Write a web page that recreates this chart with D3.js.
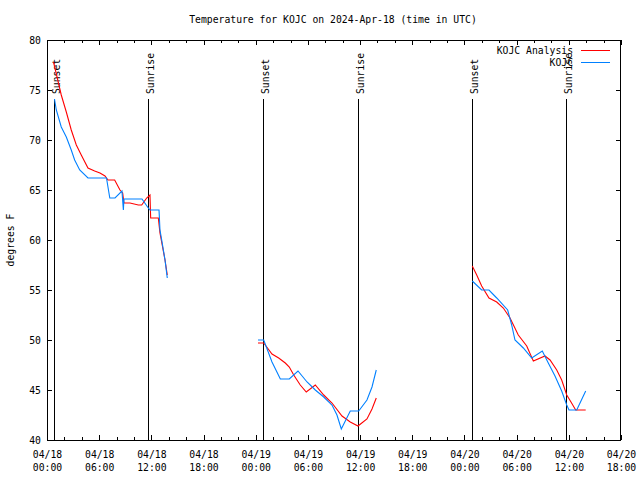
<!DOCTYPE html>
<html><head><meta charset="utf-8">
<script src="https://cdn.jsdelivr.net/npm/d3@7"></script>
<style>
html,body{margin:0;padding:0;background:#fff;}
text{font-family:"DejaVu Sans Mono",monospace;font-size:9.75px;fill:#000;}
</style></head>
<body>
<svg id="c" width="640" height="480"></svg>
<script>
// hours since 2024-04-18 00:00 UTC ; null = gap
const analysisHours = [0.75,1.64,2.22,2.79,3.37,3.94,4.71,5.48,6.09,6.67,7.01,7.78,8.39,8.70,8.85,9.54,10.50,10.89,11.46,11.84,11.92,12.80,12.99,13.57,13.83,
  null,
  24.26,24.92,25.87,26.64,27.40,27.86,28.37,29.12,29.81,30.85,31.82,32.77,33.92,34.87,35.76,36.79,37.37,37.86,
  null,
  48.90,49.41,49.98,50.82,51.71,52.47,53.24,54.19,55.16,55.92,57.26,57.84,58.61,59.18,59.76,60.25,60.79,61.94];
const analysisTemps = [77.8,74.5,72.8,71.0,69.5,68.5,67.2,66.9,66.7,66.4,66.0,66.0,65.0,64.7,63.7,63.7,63.5,63.5,64.2,64.5,62.2,62.2,60.7,58.0,56.5,
  null,
  49.7,49.7,48.6,48.2,47.7,47.3,46.5,45.5,44.8,45.5,44.5,43.7,42.4,41.8,41.4,42.1,43.1,44.2,
  null,
  57.4,56.5,55.4,54.2,53.8,53.2,52.2,50.5,49.4,47.9,48.4,48.0,47.0,46.0,44.5,43.8,43.0,43.0];
const obsHours = [0.86,1.07,1.64,2.22,2.79,3.18,3.76,4.71,6.84,7.22,7.82,8.62,8.78,8.85,10.92,11.65,11.84,12.88,12.99,13.19,13.57,13.83,
  null,
  24.26,24.92,25.87,26.83,27.86,28.86,29.90,30.85,31.82,32.77,33.34,33.84,34.87,35.84,36.79,37.37,37.86,
  null,
  48.90,49.98,50.82,51.71,52.97,53.43,53.81,54.77,55.73,56.95,57.64,58.41,59.18,59.76,60.02,60.91,61.94];
const obsTemps = [74.1,73.0,71.3,70.3,69.0,68.0,67.0,66.2,66.2,64.2,64.2,64.9,63.0,64.1,64.1,63.2,63.0,63.0,61.0,60.0,58.0,56.2,
  null,
  50.0,50.0,47.8,46.1,46.1,46.9,45.8,45.0,44.3,43.5,42.5,41.1,42.9,42.9,44.0,45.3,47.0,
  null,
  55.9,55.0,55.0,54.2,53.0,51.5,50.0,49.2,48.2,48.9,47.7,46.4,44.9,43.5,43.0,43.0,44.9];
const sunEventHours = [0.80,11.61,24.84,35.76,48.87,59.68];
const sunEventLabels = ["Sunset","Sunrise","Sunset","Sunrise","Sunset","Sunrise"];
const yTicks = [40,45,50,55,60,65,70,75,80];
const seriesNames = ["KOJC Analysis","KOJC"];
const seriesColors = ["#ff0000","#0080ff"];
const titleText = "Temperature for KOJC on 2024-Apr-18 (time in UTC)";
const yLabel = "degrees F";

const base = Date.UTC(2024,3,18,0,0);
const hr = h => new Date(base + h*3600e3);

const L=47,R=621,T=40,B=440;
const svg = d3.select("#c");
const x = d3.scaleUtc().domain([hr(0),hr(66)]).range([L,R]);
const y = d3.scaleLinear().domain([40,80]).range([B,T]);

const majors = d3.range(0,67,6).map(hr);
const minors = d3.range(0,67,2).filter(h=>h%6!==0).map(hr);

const fmtD = d3.utcFormat("%m/%d"), fmtT = d3.utcFormat("%H:%M");

// bottom axis
const gb = svg.append("g").attr("transform",`translate(0,${B})`)
  .call(d3.axisBottom(x).tickValues(majors).tickSize(-5).tickPadding(10));
gb.selectAll(".tick text").each(function(d){
  const t=d3.select(this); t.text(null).attr("y",null).attr("dy",null);
  t.append("tspan").attr("x",0).attr("y",18).text(fmtD(d));
  t.append("tspan").attr("x",0).attr("y",31).text(fmtT(d));
});
svg.append("g").attr("transform",`translate(0,${B})`)
  .call(d3.axisBottom(x).tickValues(minors).tickSize(-3).tickFormat(""));
// top axis
svg.append("g").attr("transform",`translate(0,${T})`)
  .call(d3.axisTop(x).tickValues(majors).tickSize(-5).tickFormat(""));
svg.append("g").attr("transform",`translate(0,${T})`)
  .call(d3.axisTop(x).tickValues(minors).tickSize(-3).tickFormat(""));
// left / right
svg.append("g").attr("transform",`translate(${L},0)`)
  .call(d3.axisLeft(y).tickValues(yTicks).tickSize(-5).tickPadding(6).tickFormat(d3.format("d")));
svg.append("g").attr("transform",`translate(${R},0)`)
  .call(d3.axisRight(y).tickValues(yTicks).tickSize(-5).tickFormat(""));
svg.selectAll(".domain").remove();
svg.selectAll(".tick line").attr("stroke","#000").attr("shape-rendering","crispEdges");
svg.selectAll(".tick text").attr("font-family",null).attr("font-size",null).style("fill","#000");

// border
svg.append("rect").attr("x",L+0.5).attr("y",T+0.5).attr("width",R-L-1).attr("height",B-T)
  .attr("fill","none").attr("stroke","#000").attr("shape-rendering","crispEdges");

// sunrise/sunset lines
sunEventHours.forEach((h,i)=>{
  const xx = Math.round(x(hr(h)))+0.5;
  svg.append("line").attr("x1",xx).attr("x2",xx).attr("y1",99).attr("y2",B)
    .attr("stroke","#000").attr("shape-rendering","crispEdges");
  svg.append("text").attr("transform",`translate(${xx+5},94) rotate(-90)`)
    .text(sunEventLabels[i]);
});

// series
const mk = (hs,ts)=>hs.map((h,i)=>({h,t:ts[i]}));
const line = d3.line().defined(d=>d.h!=null && d.t!=null)
  .x(d=>x(hr(d.h))).y(d=>y(d.t));
[[analysisHours,analysisTemps],[obsHours,obsTemps]].forEach(([hs,ts],i)=>{
  svg.append("path").datum(mk(hs,ts)).attr("d",line)
    .attr("fill","none").attr("stroke",seriesColors[i]).attr("stroke-width",1.1);
});

// legend
seriesNames.forEach((n,i)=>{
  const yy = 50 + i*12;
  svg.append("text").attr("x",573).attr("y",yy+3.5).attr("text-anchor","end").text(n);
  svg.append("line").attr("x1",581).attr("x2",610).attr("y1",yy+0.5).attr("y2",yy+0.5)
    .attr("stroke",seriesColors[i]).attr("shape-rendering","crispEdges");
});

// title & y label
svg.append("text").attr("x",333).attr("y",23).attr("text-anchor","middle").text(titleText);
svg.append("text").attr("transform","translate(14,240) rotate(-90)").attr("text-anchor","middle").text(yLabel);
</script>
</body></html>
